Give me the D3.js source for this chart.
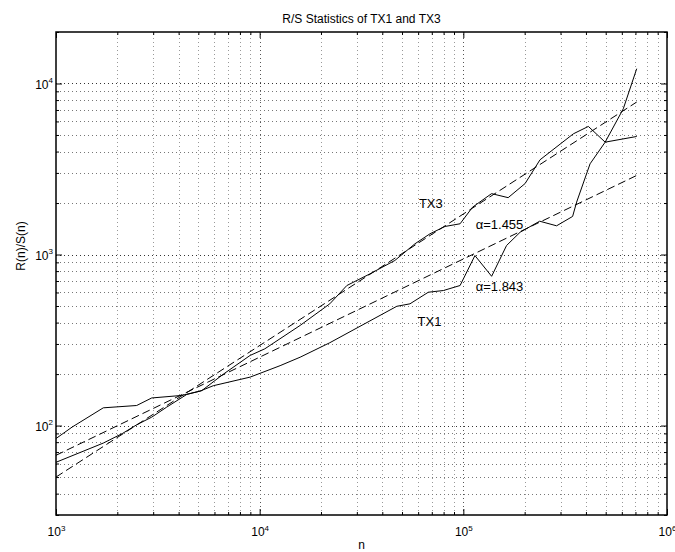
<!DOCTYPE html>
<html><head><meta charset="utf-8">
<script src="https://cdn.jsdelivr.net/npm/d3@7"></script>
<style>
body{margin:0;background:#fff}
svg{display:block}
text{font-family:"Liberation Sans",Arial,Helvetica,sans-serif;fill:#000}
</style>
</head><body>
<svg id="c" width="675" height="552"></svg>
<script>
// ---- data ----
const xTickVals = [1e3, 1e4, 1e5, 1e6];
const xTickExp = ["3", "4", "5", "6"];
const yTickVals = [1e2, 1e3, 1e4];
const yTickExp = ["2", "3", "4"];

const tx1N = [1000, 1200, 1707, 2489, 2951, 4140, 5093, 5920, 8975, 12600,
              15800, 22100, 47100, 54700, 67300, 79800, 96400, 114000, 137700, 163000,
              190000, 237000, 287000, 344000, 360000, 419000, 497000, 610000, 710000];
const tx1V = [84, 98, 127, 131, 145, 150, 159, 171, 192, 224,
              251, 305, 498, 515, 602, 616, 659, 986, 746, 1129,
              1350, 1566, 1472, 1670, 2025, 3390, 4540, 7110, 12200];

const tx3N = [1000, 1707, 2123, 2489, 2951, 3490, 4385, 5196, 6640, 8975,
              10600, 15800, 22100, 26800, 34800, 46100, 57900, 68600, 81300, 96400,
              111000, 137600, 166000, 201000, 238000, 347000, 411000, 497000, 710000];
const tx3V = [61, 79, 90, 101, 112, 128, 152, 160, 200, 257,
              281, 385, 515, 659, 771, 923, 1156, 1322, 1459, 1513,
              1892, 2270, 2150, 2600, 3580, 5080, 5610, 4540, 4900];

const fitN = [1000, 710000];
const fit1V = [67, 2900];   // TX1 fit (alpha=1.843)
const fit3V = [50, 7790];   // TX3 fit (alpha=1.455)

const annText = ["TX3", "TX1", "\u03b1=1.455", "\u03b1=1.843"];
const annN = [60500, 59600, 115000, 115000];
const annV = [2000, 405, 1502, 655];

const titleText = "R/S Statistics of TX1 and TX3";
const xLabelText = "n";
const yLabelText = "R(n)/S(n)";

// ---- layout ----
const L = 56, R = 667, T = 32, B = 515;
const svg = d3.select("#c");
svg.append("rect").attr("width", 675).attr("height", 552).attr("fill", "#fff");

const x = d3.scaleLog().domain([1e3, 1e6]).range([L, R]);
const y = d3.scaleLog().domain([30, 2e4]).range([B, T]);

const xAll = [], yAll = [];
for (let k = 3; k <= 5; k++) for (let m = 1; m <= 9; m++) xAll.push(m * Math.pow(10, k));
xAll.push(1e6);
for (let k = 1; k <= 4; k++) for (let m = 1; m <= 9; m++) {
  const v = m * Math.pow(10, k);
  if (v >= 30 && v <= 2e4) yAll.push(v);
}
const xMinor = xAll.filter(v => !xTickVals.includes(v));
const yMinor = yAll.filter(v => !yTickVals.includes(v));

// ---- grid ----
function gridStyle(g, col) {
  g.select(".domain").remove();
  g.selectAll(".tick line").attr("stroke", col).attr("stroke-width", 1)
    .attr("stroke-dasharray", "1,3");
}
const innerX = xAll.filter(v => v > 1e3 && v < 1e6);
const innerY = yAll.filter(v => v > 30 && v < 2e4);
svg.append("g").attr("transform", `translate(0,${B})`).attr("shape-rendering", "crispEdges")
  .call(d3.axisBottom(x).tickValues(innerX.filter(v => !xTickVals.includes(v))).tickSize(-(B - T)).tickFormat(""))
  .call(g => gridStyle(g, "#999"));
svg.append("g").attr("transform", `translate(0,${B})`).attr("shape-rendering", "crispEdges")
  .call(d3.axisBottom(x).tickValues(innerX.filter(v => xTickVals.includes(v))).tickSize(-(B - T)).tickFormat(""))
  .call(g => gridStyle(g, "#555"));
svg.append("g").attr("transform", `translate(${L},0)`).attr("shape-rendering", "crispEdges")
  .call(d3.axisLeft(y).tickValues(innerY.filter(v => !yTickVals.includes(v))).tickSize(-(R - L)).tickFormat(""))
  .call(g => gridStyle(g, "#777"));
svg.append("g").attr("transform", `translate(${L},0)`).attr("shape-rendering", "crispEdges")
  .call(d3.axisLeft(y).tickValues(innerY.filter(v => yTickVals.includes(v))).tickSize(-(R - L)).tickFormat(""))
  .call(g => gridStyle(g, "#333"));

// ---- tick marks (inward, all four sides) ----
function tickStyle(g) {
  g.select(".domain").remove();
  g.selectAll(".tick line").attr("stroke", "#000").attr("stroke-width", 1);
}
svg.append("g").attr("transform", `translate(0,${B})`)
  .call(d3.axisBottom(x).tickValues(xMinor).tickSize(-3).tickFormat("")).call(tickStyle);
svg.append("g").attr("transform", `translate(0,${B})`)
  .call(d3.axisBottom(x).tickValues(xTickVals).tickSize(-6).tickFormat("")).call(tickStyle);
svg.append("g").attr("transform", `translate(0,${T})`)
  .call(d3.axisTop(x).tickValues(xMinor).tickSize(-3).tickFormat("")).call(tickStyle);
svg.append("g").attr("transform", `translate(0,${T})`)
  .call(d3.axisTop(x).tickValues(xTickVals).tickSize(-6).tickFormat("")).call(tickStyle);
svg.append("g").attr("transform", `translate(${L},0)`)
  .call(d3.axisLeft(y).tickValues(yMinor).tickSize(-3).tickFormat("")).call(tickStyle);
svg.append("g").attr("transform", `translate(${L},0)`)
  .call(d3.axisLeft(y).tickValues(yTickVals).tickSize(-6).tickFormat("")).call(tickStyle);
svg.append("g").attr("transform", `translate(${R},0)`)
  .call(d3.axisRight(y).tickValues(yMinor).tickSize(-3).tickFormat("")).call(tickStyle);
svg.append("g").attr("transform", `translate(${R},0)`)
  .call(d3.axisRight(y).tickValues(yTickVals).tickSize(-6).tickFormat("")).call(tickStyle);

// ---- frame ----
svg.append("rect").attr("x", L).attr("y", T).attr("width", R - L).attr("height", B - T)
  .attr("fill", "none").attr("stroke", "#000").attr("stroke-width", 1.5);

// ---- tick labels ----
const xl = svg.append("g").attr("transform", `translate(0,${B})`)
  .call(d3.axisBottom(x).tickValues(xTickVals).tickSize(0).tickFormat(""));
xl.select(".domain").remove();
xl.selectAll(".tick").each(function(d, i) {
  const t = d3.select(this).append("text").attr("y", 21).attr("text-anchor", "middle")
    .attr("font-size", 12);
  t.append("tspan").text("10");
  t.append("tspan").attr("dy", -5).attr("font-size", 8).text(xTickExp[i]);
});
const yl = svg.append("g").attr("transform", `translate(${L},0)`)
  .call(d3.axisLeft(y).tickValues(yTickVals).tickSize(0).tickFormat(""));
yl.select(".domain").remove();
yl.selectAll(".tick").each(function(d, i) {
  const t = d3.select(this).append("text").attr("x", -3).attr("y", 5).attr("text-anchor", "end")
    .attr("font-size", 12);
  t.append("tspan").text("10");
  t.append("tspan").attr("dy", -6).attr("font-size", 8).text(yTickExp[i]);
});

// ---- series ----
const line = d3.line().x(d => x(d[0])).y(d => y(d[1]));
svg.append("clipPath").attr("id", "pc").append("rect")
  .attr("x", L).attr("y", T).attr("width", R - L).attr("height", B - T);
const plot = svg.append("g").attr("clip-path", "url(#pc)");
function addLine(N, V, dash) {
  plot.append("path").datum(N.map((n, i) => [n, V[i]])).attr("d", line)
    .attr("fill", "none").attr("stroke", "#000").attr("stroke-width", 1)
    .attr("stroke-dasharray", dash || null);
}
addLine(fitN, fit1V, "8,4");
addLine(fitN, fit3V, "8,4");
addLine(tx1N, tx1V);
addLine(tx3N, tx3V);

// ---- annotations ----
annText.forEach((t, i) => {
  svg.append("text").attr("x", x(annN[i])).attr("y", y(annV[i])).attr("dy", "0.35em")
    .attr("text-anchor", "start").attr("font-size", 13).text(t);
});

// ---- titles ----
svg.append("text").attr("x", (L + R) / 2).attr("y", 23).attr("text-anchor", "middle")
  .attr("font-size", 12).text(titleText);
svg.append("text").attr("x", (L + R) / 2).attr("y", 549).attr("text-anchor", "middle")
  .attr("font-size", 12).text(xLabelText);
svg.append("text").attr("transform", "translate(25,246) rotate(-90)").attr("text-anchor", "middle")
  .attr("font-size", 12).text(yLabelText);
</script>
</body></html>
